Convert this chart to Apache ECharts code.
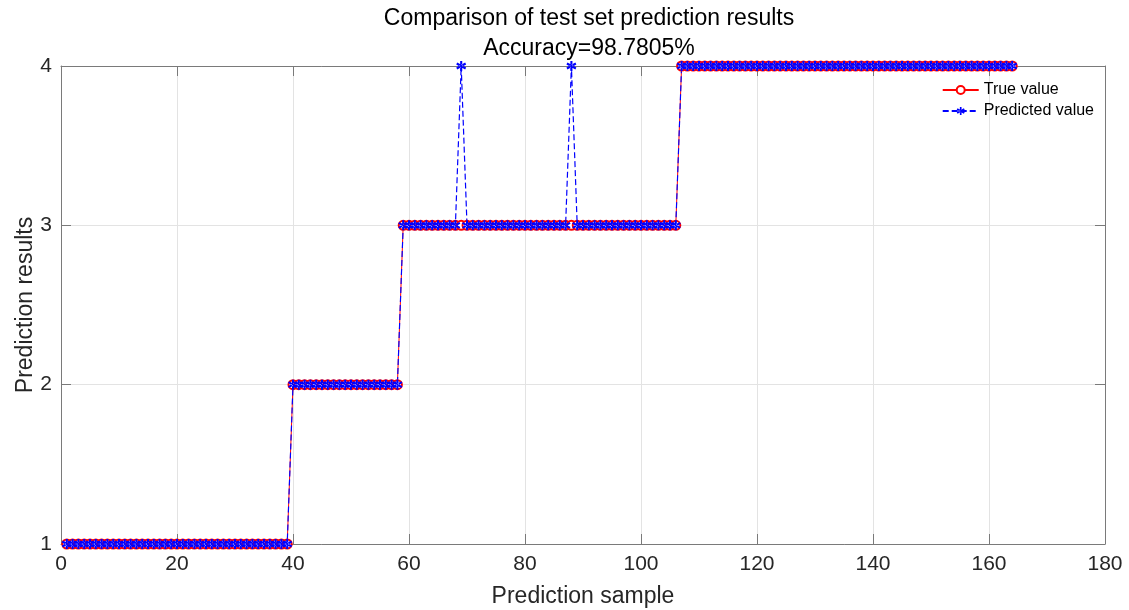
<!DOCTYPE html>
<html><head><meta charset="utf-8">
<script src="https://cdn.jsdelivr.net/npm/echarts@6/dist/echarts.min.js"></script>
<style>html,body{margin:0;padding:0;background:#fff}#c{width:1129px;height:610px}</style>
</head><body><div id="c"></div>
<script>
const titleText = "Comparison of test set prediction results";
const subtitleText = "Accuracy=98.7805%";
const xName = "Prediction sample";
const yName = "Prediction results";
const seriesNames = ["True value", "Predicted value"];
const xTicks = [0, 20, 40, 60, 80, 100, 120, 140, 160, 180];
const yTicks = [1, 2, 3, 4];
const trueValues = [
1,1,1,1,1,1,1,1,1,1, 1,1,1,1,1,1,1,1,1,1, 1,1,1,1,1,1,1,1,1,1, 1,1,1,1,1,1,1,1,1,
2,2,2,2,2,2,2,2,2,2, 2,2,2,2,2,2,2,2,2,
3,3,3,3,3,3,3,3,3,3, 3,3,3,3,3,3,3,3,3,3, 3,3,3,3,3,3,3,3,3,3, 3,3,3,3,3,3,3,3,3,3, 3,3,3,3,3,3,3,3,
4,4,4,4,4,4,4,4,4,4, 4,4,4,4,4,4,4,4,4,4, 4,4,4,4,4,4,4,4,4,4, 4,4,4,4,4,4,4,4,4,4, 4,4,4,4,4,4,4,4,4,4, 4,4,4,4,4,4,4,4
];
const predictedValues = [
1,1,1,1,1,1,1,1,1,1, 1,1,1,1,1,1,1,1,1,1, 1,1,1,1,1,1,1,1,1,1, 1,1,1,1,1,1,1,1,1,
2,2,2,2,2,2,2,2,2,2, 2,2,2,2,2,2,2,2,2,
3,3,3,3,3,3,3,3,3,3, 4,3,3,3,3,3,3,3,3,3, 3,3,3,3,3,3,3,3,3,4, 3,3,3,3,3,3,3,3,3,3, 3,3,3,3,3,3,3,3,
4,4,4,4,4,4,4,4,4,4, 4,4,4,4,4,4,4,4,4,4, 4,4,4,4,4,4,4,4,4,4, 4,4,4,4,4,4,4,4,4,4, 4,4,4,4,4,4,4,4,4,4, 4,4,4,4,4,4,4,4
];

const toPairs = arr => arr.map((v, i) => [i + 1, v]);
const txt = '#262626', axc = '#7a7a7a', gridc = '#e3e3e3';
const font = 'Helvetica, Arial, "Liberation Sans", sans-serif';
const asterisk = 'path://M-1,-5H1V5H-1Z M-4.8,-1.6L-3.8,-3.4L4.8,1.6L3.8,3.4Z M-4.8,1.6L-3.8,3.4L4.8,-1.6L3.8,-3.4Z';

const chart = echarts.init(document.getElementById('c'));
const xMin = xTicks[0], xMax = xTicks[xTicks.length - 1], xInt = xTicks[1] - xTicks[0];
const yMin = yTicks[0], yMax = yTicks[yTicks.length - 1], yInt = yTicks[1] - yTicks[0];
function tickCfg() { return {show: true, inside: true, length: 10, lineStyle: {color: axc, width: 1}}; }
function lineCfg() { return {show: true, onZero: false, lineStyle: {color: axc, width: 1}}; }
chart.setOption({
  animation: false,
  textStyle: {fontFamily: font},
  title: [
    {text: titleText, left: 584, top: 2, textAlign: 'center',
     textStyle: {fontSize: 23, fontWeight: 'normal', color: '#000', fontFamily: font}},
    {text: subtitleText, left: 584, top: 32, textAlign: 'center',
     textStyle: {fontSize: 23, fontWeight: 'normal', color: '#000', fontFamily: font}}
  ],
  grid: {left: 61, right: 24, top: 66, bottom: 66, containLabel: false, outerBoundsMode: 'none'},
  legend: {
    orient: 'vertical', right: 30, top: 77, itemGap: 5, itemWidth: 36, itemHeight: 10,
    textStyle: {fontSize: 16, color: '#000'},
    data: seriesNames
  },
  xAxis: [
    {type: 'value', min: xMin, max: xMax, interval: xInt,
      name: xName, nameLocation: 'middle', nameGap: 41, nameMoveOverlap: false,
      nameTextStyle: {fontSize: 23, color: txt},
      axisLine: lineCfg(), axisTick: tickCfg(),
      axisLabel: {fontSize: 21, color: txt, margin: 10},
      splitLine: {show: true, lineStyle: {color: gridc}}},
    {type: 'value', position: 'top', min: xMin, max: xMax, interval: xInt,
      axisLine: lineCfg(), axisTick: tickCfg(),
      axisLabel: {show: false}, splitLine: {show: false}}
  ],
  yAxis: [
    {type: 'value', position: 'left', min: yMin, max: yMax, interval: yInt,
      name: yName, nameLocation: 'middle', nameGap: 24, nameMoveOverlap: false,
      nameTextStyle: {fontSize: 23, color: txt},
      axisLine: lineCfg(), axisTick: tickCfg(),
      axisLabel: {fontSize: 21, color: txt, margin: 9},
      splitLine: {show: true, lineStyle: {color: gridc}}},
    {type: 'value', position: 'right', min: yMin, max: yMax, interval: yInt,
      axisLine: lineCfg(), axisTick: tickCfg(),
      axisLabel: {show: false}, splitLine: {show: false}}
  ],
  series: [
    {name: seriesNames[0], type: 'line', data: toPairs(trueValues),
     symbol: 'emptyCircle', symbolSize: 9, showAllSymbol: true,
     lineStyle: {color: '#ff0000', width: 1},
     itemStyle: {color: '#ff0000', borderColor: '#ff0000', borderWidth: 1.3}},
    {name: seriesNames[1], type: 'line', data: toPairs(predictedValues),
     symbol: asterisk, symbolSize: 10, showAllSymbol: true,
     lineStyle: {color: '#0000ff', width: 1.2, type: [6, 3]},
     itemStyle: {color: '#0000ff'}}
  ]
});
</script></body></html>
